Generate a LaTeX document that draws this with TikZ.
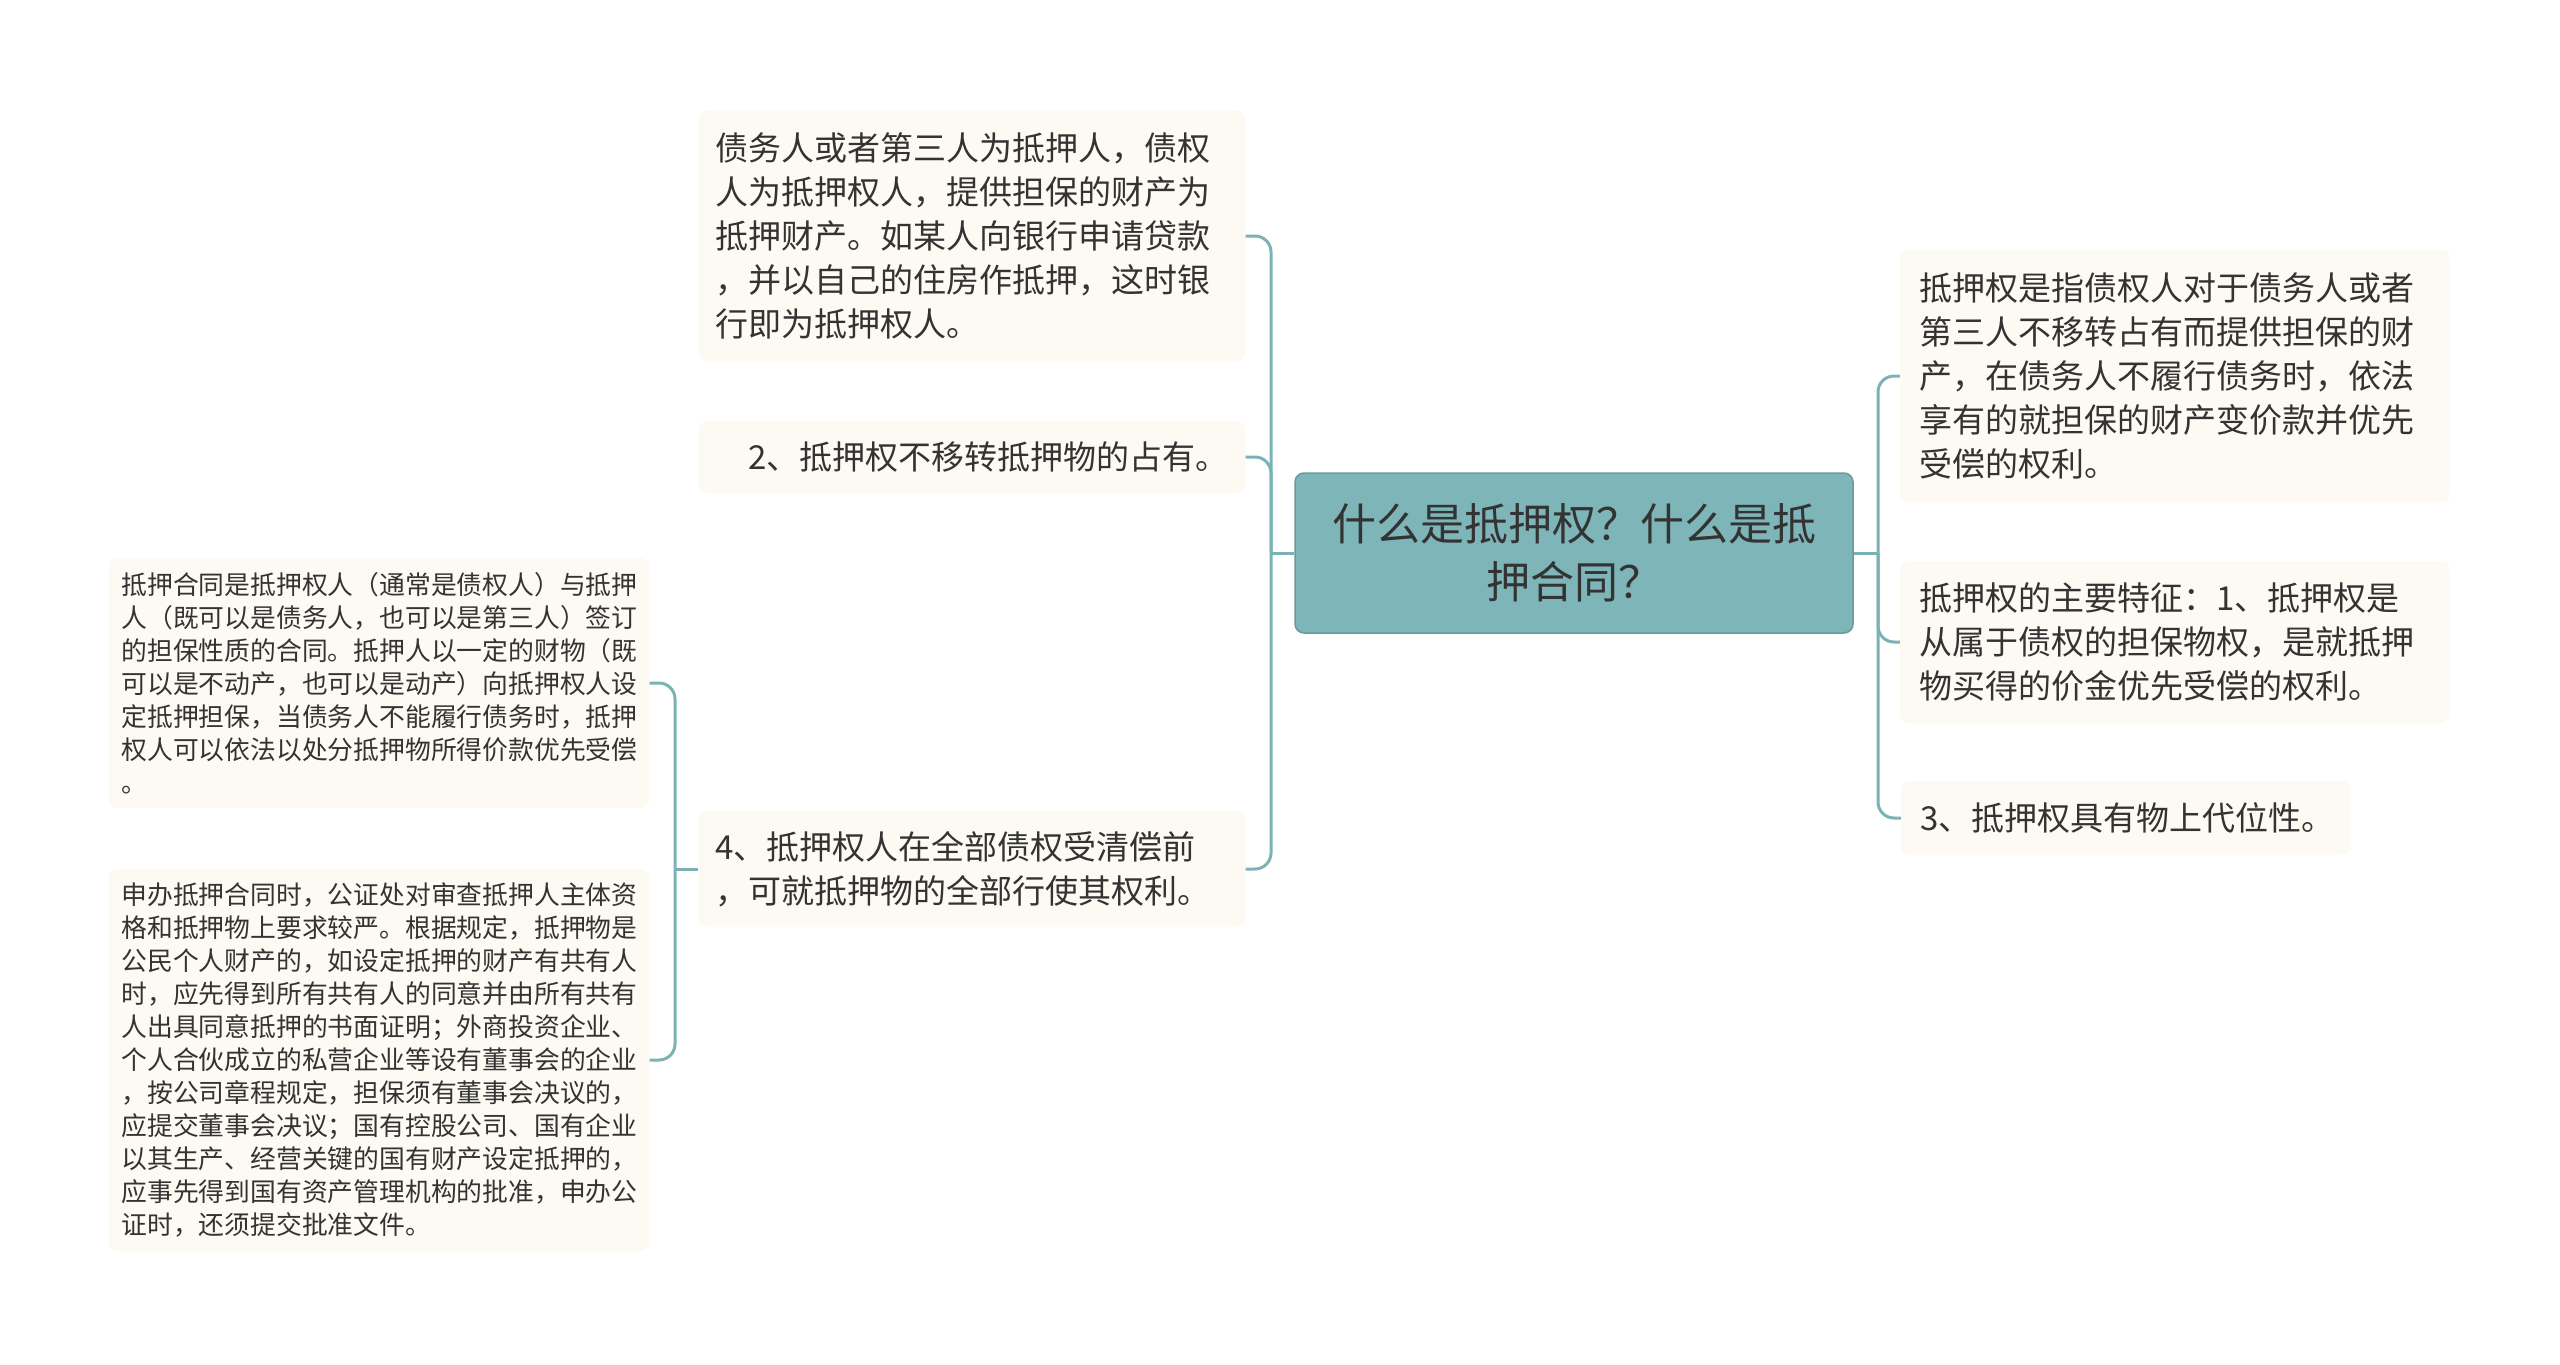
\documentclass[tikz,border=0pt]{standalone}
\usepackage{fontspec}
\setmainfont{Noto Sans CJK SC}
\definecolor{maproot}{HTML}{7EB5B8}
\definecolor{mapline}{HTML}{7AB2B5}
\definecolor{mapcream}{HTML}{FCFAF2}
\definecolor{maptext}{HTML}{333333}
\tikzset{
  rootbox/.style={draw=maproot!85!black, line width=1.5pt, fill=maproot,
    rounded corners=9pt, text=maptext, align=center, inner sep=0pt,
    minimum width=558pt, minimum height=160pt,
    font=\fontsize{44pt}{58pt}\selectfont},
  topic/.style={fill=mapcream, rounded corners=9pt, text=maptext,
    align=left, inner xsep=17pt, inner ysep=0pt,
    font=\fontsize{33pt}{44pt}\selectfont},
  note/.style={topic, inner xsep=13pt, font=\fontsize{25.8pt}{33pt}\selectfont},
  link/.style={draw=mapline, line width=3pt, rounded corners=16pt}
}
\begin{document}
\begin{tikzpicture}[x=1pt, y=-1pt]
  \useasboundingbox (0,0) rectangle (2560,1365);

  % centre
  \node[rootbox] (root) at (1574, 553) {什么是抵押权？什么是抵\\押合同？};

  % left branch
  \node[topic, text width=513pt, minimum height=251pt] (mean) at (972, 236)
    {债务人或者第三人为抵押人，债权\\人为抵押权人，提供担保的财产为\\抵押财产。如某人向银行申请贷款\\，并以自己的住房作抵押，这时银\\行即为抵押权人。};
  \node[topic, text width=513pt, minimum height=72pt, align=right] (keep) at (972, 457)
    {2、抵押权不移转抵押物的占有。};
  \node[topic, text width=513pt, minimum height=116pt] (whole) at (972, 869)
    {4、抵押权人在全部债权受清偿前\\，可就抵押物的全部行使其权利。};

  \node[note, text width=515pt, minimum height=250pt] (contract) at (379, 683)
    {抵押合同是抵押权人（通常是债权人）与抵押\\人（既可以是债务人，也可以是第三人）签订\\的担保性质的合同。抵押人以一定的财物（既\\可以是不动产，也可以是动产）向抵押权人设\\定抵押担保，当债务人不能履行债务时，抵押\\权人可以依法以处分抵押物所得价款优先受偿\\。};
  \node[note, text width=515pt, minimum height=382pt] (notary) at (379, 1060)
    {申办抵押合同时，公证处对审查抵押人主体资\\格和抵押物上要求较严。根据规定，抵押物是\\公民个人财产的，如设定抵押的财产有共有人\\时，应先得到所有共有人的同意并由所有共有\\人出具同意抵押的书面证明；外商投资企业、\\个人合伙成立的私营企业等设有董事会的企业\\，按公司章程规定，担保须有董事会决议的，\\应提交董事会决议；国有控股公司、国有企业\\以其生产、经营关键的国有财产设定抵押的，\\应事先得到国有资产管理机构的批准，申办公\\证时，还须提交批准文件。};

  % right branch
  \node[topic, inner xsep=19pt, text width=512pt, minimum height=253pt] (define) at (2175, 376)
    {抵押权是指债权人对于债务人或者\\第三人不移转占有而提供担保的财\\产，在债务人不履行债务时，依法\\享有的就担保的财产变价款并优先\\受偿的权利。};
  \node[topic, inner xsep=19pt, text width=512pt, minimum height=162pt] (feature) at (2175, 642)
    {抵押权的主要特征：1、抵押权是\\从属于债权的担保物权，是就抵押\\物买得的价金优先受偿的权利。};
  \node[topic, inner xsep=19pt, text width=412pt, minimum height=74pt] (proxy) at (2126, 818)
    {3、抵押权具有物上代位性。};

  % connectors
  \draw[link] (root.west) -- (1271, 553) coordinate (lbus);
  \draw[link] (lbus) |- (mean.east);
  \draw[link] (lbus) |- (keep.east);
  \draw[link] (lbus) |- (whole.east);

  \draw[link] (root.east) -- (1878, 553) coordinate (rbus);
  \draw[link] (rbus) |- (define.west);
  \draw[link] (rbus) |- (feature.west);
  \draw[link] (rbus) |- (proxy.west);

  \draw[link] (whole.west) -- (675, 869) coordinate (wbus);
  \draw[link] (wbus) |- (contract.east);
  \draw[link] (wbus) |- (notary.east);
\end{tikzpicture}
\end{document}
